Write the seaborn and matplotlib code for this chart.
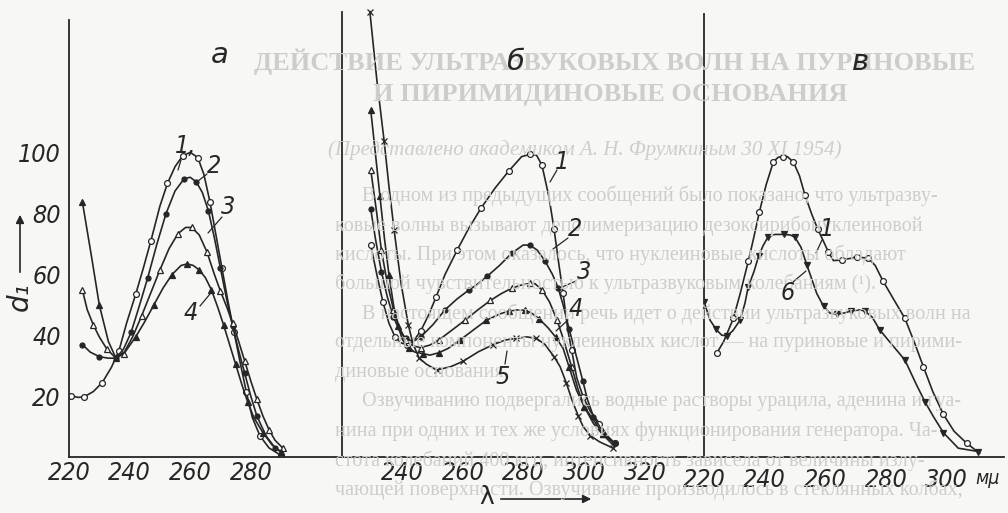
import matplotlib
matplotlib.use("Agg")
import matplotlib.pyplot as plt
import seaborn as sns
import pandas as pd

# --- panel a (curves 1-4) ---
a1_lam = [220.5, 223, 225, 228, 231, 234, 236.5, 239, 242, 244.5, 247, 250, 252.5, 255, 257.5, 260, 262.5,
          264.5, 266.5, 268.5, 270.5, 272.5, 274.5, 276.5, 278.5, 280.5, 283, 286, 290]
a1_d = [20.2, 19.6, 19.8, 21.5, 24.5, 29.5, 35, 44, 53.5, 62, 71, 82.5, 90, 95.5, 99, 100.2, 98.5,
        93, 84, 73, 62, 51, 41, 31, 21.5, 13, 7, 3, 0.5]
a2_lam = [224.4, 227, 230, 233, 235.5, 238, 240.5, 243, 246, 249, 252, 255, 258, 260, 262, 264, 266, 268,
          270, 272, 274, 276, 278, 280, 282, 285, 288, 290.5]
a2_d = [37, 34.5, 33, 32.5, 32.5, 35.5, 41, 49, 59, 70, 80, 87.5, 91.5, 92, 90.5, 87, 81, 72,
        62, 52, 43, 35, 27.5, 20, 13.5, 7, 3, 1.5]
a3_lam = [224.4, 226, 228, 230, 232.5, 235.5, 238, 241, 244, 247, 250, 253, 256, 258.5, 260.5, 263, 265.5,
          268, 270, 272, 274, 276, 278, 280, 282, 284, 286, 288, 290.5]
a3_d = [55, 48.5, 43.5, 39.5, 35.5, 32.5, 34, 39.5, 46.5, 54, 61.5, 68.5, 73.5, 75.5, 75.5, 73, 67.5,
        60, 54.5, 49.5, 44, 38, 31.5, 25, 19, 13.5, 9, 5.5, 3]
a4_lam = [224.4, 227.5, 230, 233, 235.5, 238.5, 242, 245, 248, 251, 254, 257, 259, 261, 263, 265, 267,
          269, 271, 273, 275, 277, 279, 281, 284, 287, 290]
a4_d = [84, 65.5, 50, 38, 32.5, 34.5, 39.5, 44.5, 50, 55.5, 60, 63, 63.5, 63, 61.5, 59, 55,
        49.5, 43.5, 37, 30.5, 24, 18, 13, 8, 4, 1.5]

# --- panel b (curves 1-5) ---
b1_lam = [229.5, 231.5, 233.5, 235.5, 237.5, 239.5, 241.5, 243.5, 246, 248.5, 251, 254, 258, 262, 266,
          270.5, 275, 279.3, 282, 284.2, 286, 288.3, 290, 291.5, 293, 294.5, 295.8, 297.5, 299.6, 302,
          305, 307.5, 310]
b1_d = [69.7, 60, 51, 44, 39.5, 37.5, 37, 38, 41.5, 46.5, 52.5, 60, 68, 75.5, 82,
        88.4, 94, 98.8, 99.5, 99.3, 96, 85.6, 75, 64, 53.8, 42, 35.2, 26, 19.8, 15,
        11, 7, 4.5]
b2_lam = [229.5, 231, 233, 235, 237, 239, 241, 243.5, 246, 250, 254, 258, 262, 264.4, 268, 272, 276,
          279.8, 282, 284.5, 287, 289.5, 291.4, 293, 295, 297.4, 299.5, 301, 303, 306, 310]
b2_d = [81.5, 72, 61, 52.5, 46, 41.5, 39, 38, 39.5, 43.5, 48.4, 52, 55, 56.6, 59.5, 63, 67,
        69.7, 69.7, 68, 64.5, 60, 55.5, 50, 42, 33, 25, 19, 13.3, 8.5, 4.5]
b3_lam = [229.5, 231.4, 233, 235, 237, 239, 241, 243.5, 246, 249, 252, 256, 260.6, 265, 269, 272.7, 276,
          279, 282, 283.7, 286, 288.5, 291, 293, 295.8, 298, 300, 303, 306, 310]
b3_d = [94.4, 80.7, 68, 57, 48.5, 42.5, 38.5, 36.5, 36, 36.8, 38.5, 41.5, 45, 48.5, 51.5, 53.8, 55.5,
        56.5, 57.1, 57, 55, 51, 45, 39, 29.7, 22, 16.5, 11, 7.5, 4.5]
b4_lam = [229.5, 230.9, 232.5, 234, 235.5, 237, 238.5, 240, 242, 244, 246.8, 249, 252, 255, 259, 263,
          267.7, 272, 275, 278.2, 280.5, 282.6, 285, 288, 290.5, 293, 295, 297.4, 300, 303, 306, 310]
b4_d = [114, 101, 86, 72, 60, 50, 43, 38.5, 36, 34.5, 34, 33.5, 34.3, 35.7, 38.5, 41.5,
        45, 47, 48, 48.4, 48.3, 47.3, 45.5, 42.5, 39.5, 35.7, 29.5, 22, 16.5, 12.2, 7.5, 3.4]
b5_lam = [229.2, 231.5, 233.9, 235.5, 237.2, 239.5, 241.9, 243.5, 245.5, 247.9, 251.2, 255.9, 260, 265,
          270, 274, 277.6, 281, 284.2, 287, 290, 292, 294, 296, 298, 299.6, 302, 305, 309.5]
b5_d = [146.5, 124, 104, 89, 74.7, 57, 43.4, 37, 32.5, 30.5, 28.6, 29.7, 31.5, 34.6,
        37, 38.5, 39, 39.5, 39, 37, 33, 29.7, 24.5, 18.5, 13.5, 10, 7, 5, 2.9]

# --- panel v (curves 1 and 6) ---
c1_lam = [224.2, 226.5, 229.7, 232, 234.6, 236.5, 238.3, 240.5, 242.9, 244.5, 246.2, 247.5, 249.5, 251.5,
          253.3, 255.5, 257.5, 259.4, 261, 262.7, 265.4, 268.7, 270.4, 272, 274.2, 276.5, 279, 282.5,
          286.3, 289.5, 292.4, 295.5, 299, 302.5, 306.7, 311]
c1_d = [34.1, 38, 45.6, 54, 64.3, 72.5, 80.7, 89.5, 97.1, 98.6, 98.8, 98.8, 97, 92.5,
        86.2, 80, 75, 71, 67.5, 64.6, 64.8, 65.4, 65.9, 65.6, 65.4, 63, 58, 52,
        45.6, 37.5, 29.7, 21.5, 14, 8.5, 4.5, 1.2]
c6_lam = [220, 222, 224, 225.8, 227.5, 229.5, 231.9, 233.5, 234.6, 236.5, 238, 239.5, 241.2, 243.5, 246.5,
          248.5, 250, 252, 254, 257.2, 259.5, 261.6, 264, 266, 268.5, 271.5, 273.1, 275.5, 278, 282,
          286.3, 290, 293, 295.7, 299, 303.9, 310.5]
c6_d = [51.1, 45, 42, 40.1, 39.8, 41.5, 45, 50.5, 56, 61, 66, 69.5, 72.5, 73.2, 73.2,
        73, 72.3, 69, 63, 53.8, 49.5, 47.3, 47, 47.3, 48, 48.4, 48, 46, 41.8, 37,
        31.9, 24, 18, 13.3, 8, 2.9, 1.8]

y_ticks = [10, 20, 30, 40, 50, 60, 70, 80, 90, 100]
y_labels = ["", "20", "", "40", "", "60", "", "80", "", "100"]

# page text showing through the scan
title_lines = ["ДЕЙСТВИЕ УЛЬТРАЗВУКОВЫХ ВОЛН НА ПУРИНОВЫЕ", "И ПИРИМИДИНОВЫЕ ОСНОВАНИЯ"]
note_line = "(Представлено академиком А. Н. Фрумкиным 30 XI 1954)"
body_lines = [
    "В одном из предыдущих сообщений было показано, что ультразву-",
    "ковые волны вызывают деполимеризацию дезоксирибонуклеиновой",
    "кислоты. При этом оказалось, что нуклеиновые кислоты обладают",
    "большой чувствительностью к ультразвуковым колебаниям (¹).",
    "В настоящем сообщении речь идет о действии ультразвуковых волн на",
    "отдельные компоненты нуклеиновых кислот — на пуриновые и пирими-",
    "диновые основания.",
    "Озвучиванию подвергались водные растворы урацила, аденина и гуа-",
    "нина при одних и тех же условиях функционирования генератора. Ча-",
    "стота колебаний 400 кгц, интенсивность зависела от величины излу-",
    "чающей поверхности. Озвучивание производилось в стеклянных колбах,",
]

W, H = 1008, 513
INK = "#262626"
GHOST = "#cdcdc9"

sns.set_theme(style="white")
plt.rcParams['font.family'] = ['DejaVu Sans']

fig = plt.figure(figsize=(W / 100, H / 100), dpi=100)
fig.patch.set_facecolor("#f7f7f5")


def px(x, y):
    return x / W, 1 - y / H


# faint background text first
fig.text(*px(615, 62), title_lines[0], fontsize=19, fontweight="bold", color=GHOST, ha="center",
         va="center", family="Liberation Serif")
fig.text(*px(610, 95), title_lines[1], fontsize=19, fontweight="bold", color=GHOST, ha="center",
         va="center", family="Liberation Serif")
fig.text(*px(585, 150), note_line, fontsize=15, fontstyle="italic", color=GHOST, ha="center",
         va="center", family="Liberation Serif")
for i, line in enumerate(body_lines):
    x0 = 362 if i in (0, 4, 7) else 335
    fig.text(*px(x0, 196 + 29.4 * i), line, fontsize=14.5, color=GHOST, ha="left", va="center",
             family="Liberation Serif")


def panel(left, right, xmax, top):
    ax = fig.add_axes([left / W, 1 - 457 / H, (right - left) / W, 450 / H])
    ax.set_facecolor("none")
    ax.set_xlim(220, xmax)
    ax.set_ylim(0, 148)
    for s in ["top", "right"]:
        ax.spines[s].set_visible(False)
    for s in ["left", "bottom"]:
        ax.spines[s].set_color(INK)
        ax.spines[s].set_linewidth(1.3)
    ax.spines["left"].set_bounds(0, top)
    ax.tick_params(axis="both", direction="in", length=5, width=1.1, color=INK,
                   labelsize=18, labelcolor=INK, pad=3)
    ax.set_yticks([])
    ax.grid(False)
    return ax


def curve(ax, lam, d, marker, filled, ms=4.2):
    df = pd.DataFrame({"lam": lam, "d": d})
    sns.lineplot(data=df, x="lam", y="d", ax=ax, sort=False, estimator=None, color=INK, lw=1.2,
                 marker=marker, markersize=ms, markevery=2, markeredgecolor=INK, markeredgewidth=0.9,
                 markerfacecolor=INK if filled else "white")


ax_a = panel(69, 342, 310.1, 143.8)
ax_b = panel(342, 704, 339.5, 146.4)
ax_c = panel(704, 1004, 319.0, 145.7)

curve(ax_a, a1_lam, a1_d, "o", False)
curve(ax_a, a2_lam, a2_d, "o", True, 3.6)
curve(ax_a, a3_lam, a3_d, "^", False)
curve(ax_a, a4_lam, a4_d, "^", True)

curve(ax_b, b1_lam, b1_d, "o", False)
curve(ax_b, b2_lam, b2_d, "o", True, 3.6)
curve(ax_b, b3_lam, b3_d, "^", False)
curve(ax_b, b4_lam, b4_d, "^", True)
curve(ax_b, b5_lam, b5_d, "x", True, 5)

curve(ax_c, c1_lam, c1_d, "o", False)
curve(ax_c, c6_lam, c6_d, "v", True)

# axes ticks, condensed italic digits
tick_font = dict(fontstyle="italic", fontstretch="condensed")
ax_a.set_yticks(y_ticks)
ax_a.set_yticklabels(y_labels, **tick_font)
ax_a.tick_params(axis="y", pad=6)
ax_a.set_xticks(list(range(220, 301, 10)))
ax_a.set_xticklabels(["220", "", "240", "", "260", "", "280", "", ""], **tick_font)
ax_b.set_xticks(list(range(230, 331, 10)))
ax_b.set_xticklabels(["", "240", "", "260", "", "280", "", "300", "", "320", ""], **tick_font)
ax_c.set_xticks([220, 240, 260, 280, 300])
ax_c.set_xticklabels(["220", "240", "260", "280", "300"], **tick_font)
ax_c.tick_params(axis="x", length=0, pad=8)
ax_c.set_xticks([230, 240], minor=True)
ax_c.tick_params(axis="x", which="minor", direction="in", length=5, width=1.1, color=INK)
for ax in (ax_a, ax_b, ax_c):
    ax.set_xlabel("")
    ax.set_ylabel("")

# curve numbers with leader strokes
labels = [("1,", 186, 146, (181, 160), (178, 170)), ("2", 214, 166, (207, 174), (198, 181)),
          ("3", 228, 207, (222, 217), (208, 233)), ("4", 191, 313, (200, 306), (210, 294)),
          ("1", 562, 162, (557, 170), (550, 182)), ("2", 575, 229, (568, 238), (553, 249)),
          ("3", 584, 272, (576, 281), (560, 288)), ("4", 576, 309, (568, 320), (556, 331)),
          ("5", 503, 377, (505, 364), (507, 351)), ("1", 827, 229, (822, 240), (816, 253)),
          ("6", 788, 293, (793, 282), (806, 271))]
for txt, x, y, p0, p1 in labels:
    fig.text(*px(x, y), txt, fontsize=18, color=INK, ha="center", va="center", **tick_font)
    fig.add_artist(plt.Line2D([p0[0] / W, p1[0] / W], [1 - p0[1] / H, 1 - p1[1] / H], color=INK, lw=0.9))

for txt, x, y in [("а", 220, 55), ("б", 515, 62), ("в", 860, 62)]:
    fig.text(*px(x, y), txt, fontsize=21, fontstyle="italic", color=INK, ha="center", va="center")

fig.text(*px(988, 478), "мμ", fontsize=14, color=INK, ha="center", va="center", **tick_font)
fig.text(*px(487, 497), "λ", fontsize=18, color=INK, ha="center", va="center")
ax_a.annotate("", xy=px(594, 499), xytext=px(498, 499), xycoords="figure fraction",
              arrowprops=dict(arrowstyle="-|>", color=INK, lw=1.2, mutation_scale=12))
fig.text(*px(20, 297), "d₁", fontsize=20, fontstyle="italic", color=INK, ha="center", va="center",
         rotation=90)
ax_a.annotate("", xy=px(20, 212), xytext=px(20, 275), xycoords="figure fraction",
              arrowprops=dict(arrowstyle="-|>", color=INK, lw=1.2, mutation_scale=12))

fig.savefig("out.png", dpi=100, facecolor=fig.get_facecolor())
